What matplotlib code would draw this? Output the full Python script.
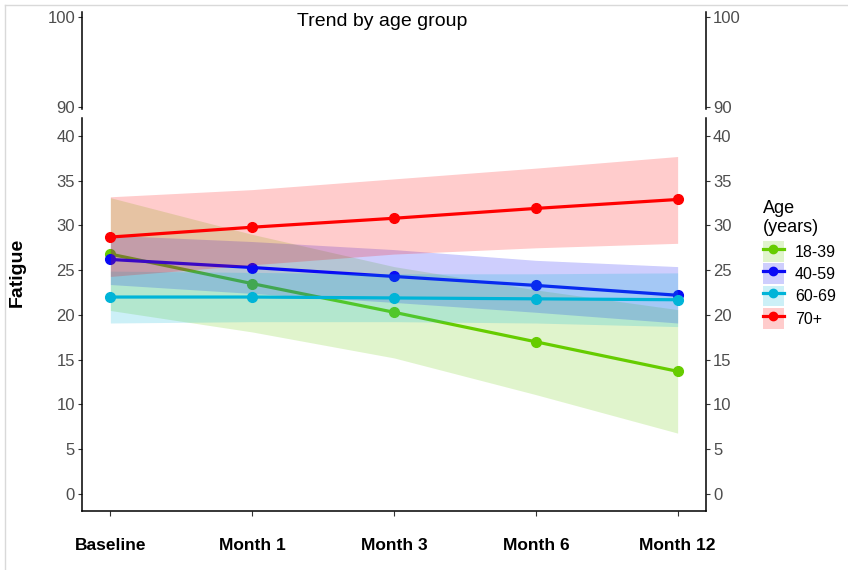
import matplotlib
matplotlib.use("Agg")
import matplotlib.pyplot as plt
from matplotlib.lines import Line2D
from matplotlib.patches import Patch
from matplotlib.legend_handler import HandlerTuple
import numpy as np

plt.rcParams['font.family'] = ['Liberation Sans', 'DejaVu Sans']

categories = ["Baseline", "Month 1", "Month 3", "Month 6", "Month 12"]
groups = ["18-39", "40-59", "60-69", "70+"]
colors = ["#66CC00", "#0A0AF5", "#00B4D8", "#FF0000"]

mean_18_39 = [26.8, 23.5, 20.3, 17.0, 13.7]
lower_18_39 = [20.5, 18.1, 15.2, 11.1, 6.8]
upper_18_39 = [33.1, 29.0, 25.4, 22.8, 20.6]

mean_40_59 = [26.2, 25.3, 24.3, 23.3, 22.2]
lower_40_59 = [23.4, 22.4, 21.4, 20.3, 19.1]
upper_40_59 = [28.9, 28.2, 27.3, 26.1, 25.4]

mean_60_69 = [22.0, 22.0, 21.9, 21.8, 21.7]
lower_60_69 = [19.1, 19.25, 19.25, 19.1, 18.7]
upper_60_69 = [24.9, 24.75, 24.6, 24.6, 24.7]

mean_70 = [28.7, 29.8, 30.8, 31.9, 32.9]
lower_70 = [24.3, 25.6, 26.8, 27.5, 28.0]
upper_70 = [33.2, 34.0, 35.2, 36.4, 37.7]

means = [mean_18_39, mean_40_59, mean_60_69, mean_70]
lowers = [lower_18_39, lower_40_59, lower_60_69, lower_70]
uppers = [upper_18_39, upper_40_59, upper_60_69, upper_70]

W, H = 848, 570
fig = plt.figure(figsize=(W / 100, H / 100), dpi=100)

left = 82 / W
right = 706 / W
ax_top = fig.add_axes([left, 1 - 109 / H, right - left, (109 - 12) / H])
ax = fig.add_axes([left, 1 - 511 / H, right - left, (511 - 118) / H])

x = np.arange(len(categories))
tick_col = "#4D4D4D"

for i, g in enumerate(groups):
    c = colors[i]
    ax.fill_between(x, lowers[i], uppers[i], color=c, alpha=0.2, lw=0, zorder=2 + i * 3)
    ax.plot(x, means[i], color=c, lw=2.3, zorder=3 + i * 3, solid_capstyle='round')
    ax.plot(x, means[i], 'o', color=c, ms=7, zorder=4 + i * 3)

ax.set_xlim(-0.2, 4.2)
ax.set_ylim(-1.9, 42.0)
ax.set_yticks([0, 5, 10, 15, 20, 25, 30, 35, 40])
ax.set_xticks(x)
ax.set_xticklabels(categories, fontweight='bold', fontsize=12.5, color='black')
ax.tick_params(axis='x', length=3.5, pad=16, color='#333333', width=0.8)
ax.tick_params(axis='y', which='both', left=True, right=True, labelleft=True,
               labelright=True, labelsize=12, labelcolor=tick_col, length=3,
               color='#333333', width=0.8, pad=2)
ax.spines['top'].set_visible(False)
for s in ['left', 'right', 'bottom']:
    ax.spines[s].set_linewidth(1.1)
    ax.spines[s].set_color('black')

ax_top.set_xlim(-0.2, 4.2)
ax_top.set_ylim(89.8, 100.55)
ax_top.set_yticks([90, 100])
ax_top.set_xticks([])
ax_top.tick_params(axis='y', left=True, right=True, labelleft=True, labelright=True,
                   labelsize=12, labelcolor=tick_col, length=3, color='#333333',
                   width=0.8, pad=2)
for s in ['top', 'bottom']:
    ax_top.spines[s].set_visible(False)
for s in ['left', 'right']:
    ax_top.spines[s].set_linewidth(1.1)
    ax_top.spines[s].set_color('black')
ax_top.patch.set_alpha(0)

fig.text(382 / W, 1 - 21 / H, "Trend by age group", ha='center', va='center', fontsize=14)
fig.text(17 / W, 1 - 272 / H, "Fatigue", rotation=90, ha='center', va='center',
         fontsize=14, fontweight='bold')

# legend title
fig.text(762.5 / W, 1 - 213 / H, "Age", ha='left', va='baseline', fontsize=13)
fig.text(762.5 / W, 1 - 231.5 / H, "(years)", ha='left', va='baseline', fontsize=13)

handles = []
for c in colors:
    handles.append((Patch(facecolor=c, alpha=0.2, edgecolor='none'),
                    Line2D([], [], color=c, lw=2.3, marker='o', ms=6)))
leg = fig.legend(handles, groups, loc='upper left',
                 bbox_to_anchor=(763 / W, 1 - 241 / H), frameon=False, fontsize=11.5,
                 handlelength=1.31, handleheight=1.62,
                 labelspacing=0.1, handletextpad=0.69, borderpad=0, borderaxespad=0,
                 handler_map={tuple: HandlerTuple(ndivide=1, pad=0)})

# light frame lines (top and left edges)
fig.add_artist(Line2D([5 / W, 1], [1 - 5 / H, 1 - 5 / H], transform=fig.transFigure,
                      color='#D9D9D9', lw=1))
fig.add_artist(Line2D([5 / W, 5 / W], [0, 1 - 5 / H], transform=fig.transFigure,
                      color='#D9D9D9', lw=1))

fig.savefig("out.png", dpi=100)
